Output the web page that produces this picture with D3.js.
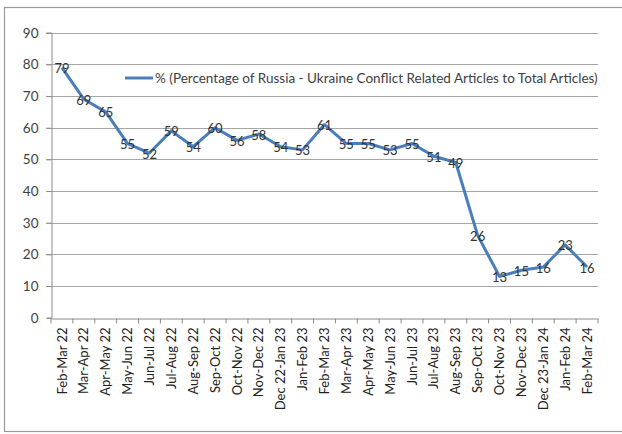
<!DOCTYPE html>
<html><head><meta charset="utf-8">
<script src="https://cdn.jsdelivr.net/npm/d3@7"></script>
<style>body{margin:0;background:#fff}svg{display:block;font-family:Lato,"Open Sans",sans-serif}</style>
</head><body><svg id="c" width="622" height="434"></svg>
<script>
const categories = ["Feb-Mar 22","Mar-Apr 22","Apr-May 22","May-Jun 22","Jun-Jul 22","Jul-Aug 22","Aug-Sep 22","Sep-Oct 22","Oct-Nov 22","Nov-Dec 22","Dec 22-Jan 23","Jan-Feb 23","Feb-Mar 23","Mar-Apr 23","Apr-May 23","May-Jun 23","Jun-Jul 23","Jul-Aug 23","Aug-Sep 23","Sep-Oct 23","Oct-Nov 23","Nov-Dec 23","Dec 23-Jan 24","Jan-Feb 24","Feb-Mar 24"];
const values = [79,69,65,55,52,59,54,60,56,58,54,53,61,55,55,53,55,51,49,26,13,15,16,23,16];
const yTicks = [0,10,20,30,40,50,60,70,80,90];
const seriesName = "% (Percentage of Russia - Ukraine Conflict Related Articles to Total Articles)";

(function(){
const svg = d3.select("#c");
const mL = 51, mR = 598, mT = 32.7, mB = 317.7;
const x = d3.scaleBand().domain(categories).range([mL, mR]);
const y = d3.scaleLinear().domain([0, 90]).range([mB, mT]);

// outer border
svg.append("rect").attr("x", 4.5).attr("y", 7.5).attr("width", 622).attr("height", 424)
  .attr("fill", "none").attr("stroke", "#9a9a9a").attr("stroke-width", 1.2);

// gridlines
svg.append("g").selectAll("line").data(yTicks.filter(d => d > 0)).join("line")
  .attr("x1", mL - 5).attr("x2", mR)
  .attr("y1", d => Math.round(y(d)) + 0.5).attr("y2", d => Math.round(y(d)) + 0.5)
  .attr("stroke", "#a6a6a6").attr("stroke-width", 1);

// y axis
const yAxis = svg.append("g").attr("transform", `translate(${mL + 0.5},0)`)
  .call(d3.axisLeft(y).tickValues(yTicks).tickSize(5).tickPadding(8));
yAxis.select(".domain").attr("stroke", "#8c8c8c");
yAxis.selectAll(".tick line").attr("stroke", "#8c8c8c");
yAxis.selectAll("text").attr("font-size", 13.5).attr("fill", "#404040").attr("font-family", "Lato, sans-serif");

// x axis
const xAxis = svg.append("g").attr("transform", `translate(0,${Math.round(mB) + 0.5})`)
  .call(d3.axisBottom(x).tickSize(0).tickPadding(0));
xAxis.select(".domain").attr("stroke", "#8c8c8c");
xAxis.append("g").selectAll("line").data(d3.range(categories.length + 1)).join("line")
  .attr("x1", i => mL + i * x.step()).attr("x2", i => mL + i * x.step())
  .attr("y1", 0).attr("y2", 5).attr("stroke", "#8c8c8c");
xAxis.selectAll(".tick text")
  .attr("transform", "rotate(-90)")
  .attr("text-anchor", "end")
  .attr("x", -9).attr("y", 0).attr("dy", "0.35em")
  .attr("font-size", 13).attr("fill", "#222").attr("font-family", "Lato, sans-serif");

// line
const cx = d => x(d) + x.bandwidth() / 2;
svg.append("path").datum(values)
  .attr("fill", "none").attr("stroke", "#4a7ebb").attr("stroke-width", 3)
  .attr("stroke-linejoin", "round")
  .attr("d", d3.line().x((d, i) => cx(categories[i])).y(d => y(d)));

// data labels
svg.append("g").selectAll("text").data(values).join("text")
  .attr("x", (d, i) => cx(categories[i]))
  .attr("y", d => y(d) + 1)
  .attr("dy", "0.35em")
  .attr("text-anchor", "middle")
  .attr("font-size", 13).attr("fill", "#333")
  .text(d => d);

// legend
svg.append("line").attr("x1", 125).attr("x2", 153).attr("y1", 78).attr("y2", 78)
  .attr("stroke", "#4a7ebb").attr("stroke-width", 3);
svg.append("text").attr("x", 155).attr("y", 78).attr("dy", "0.35em")
  .attr("font-size", 13.5).attr("fill", "#404040").text(seriesName);
})();
</script></body></html>
